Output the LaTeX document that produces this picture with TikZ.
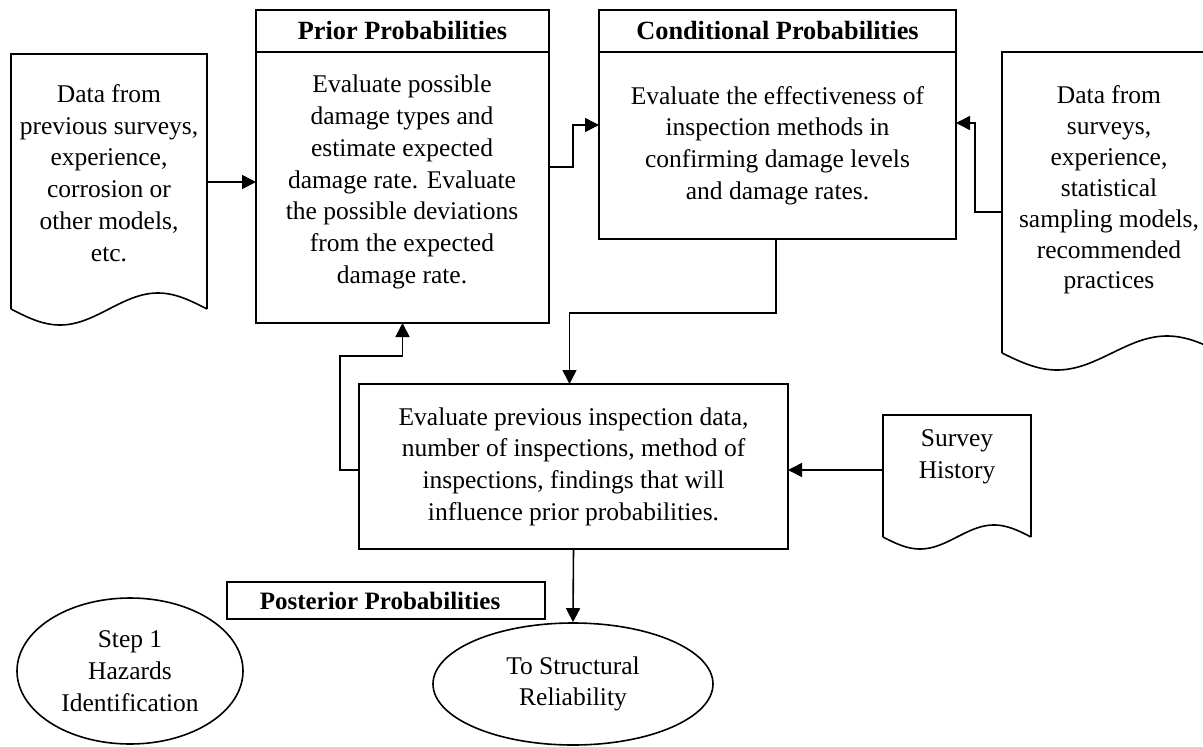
\documentclass[tikz,border=0pt]{standalone}
\usepackage{fontspec}
\setmainfont{Liberation Serif}
\usetikzlibrary{arrows.meta,shapes.geometric}
% document symbol: left/top/right edges, mean height of the wavy bottom, wave amplitude
\newcommand\docoutline[5]{%
  \draw (#1,#4) -- (#1,#2) -- (#3,#2) -- (#3,#4);
  \draw plot[domain=0:1,samples=90,smooth] ({#1+(#3-#1)*\x},{#4+#5*sin(360*\x)});
}
\begin{document}
\begin{tikzpicture}[x=1pt,y=-1pt,line width=1.6pt,
  txt/.style={align=center,font=\fontsize{25.5}{31.7}\selectfont,inner sep=0pt},
  box/.style={draw,txt,anchor=north west,outer sep=0pt},
  head/.style={box,font=\fontsize{26.3}{31.7}\selectfont\bfseries},
  area/.style={inner sep=0pt,outer sep=0pt,anchor=north west},
  oval/.style={draw,ellipse,txt},
  arr/.style={-{Triangle[length=14pt,width=14pt]}}]
\useasboundingbox (0,0) rectangle (1203,747);

% data sources drawn as document symbols
\docoutline{11}{54}{207}{309}{16}
\node[area,minimum width=196pt,minimum height=255pt] (ldoc) at (11,54) {};
\node[txt] (ldoctext) at (109,173) {Data from\\previous surveys,\\experience,\\corrosion or\\other models,\\etc.};

\docoutline{1002}{52}{1222}{353}{17}
\node[area,minimum width=220pt,minimum height=301pt] (rdoc) at (1002,52) {};
\node[txt,font=\fontsize{25.5}{30.9}\selectfont] (rdoctext) at (1109,190) {Data from\\surveys,\\experience,\\statistical\\sampling models,\\recommended\\practices};

\docoutline{883}{415}{1031}{537}{12}
\node[area,minimum width=148pt,minimum height=122pt] (hist) at (883,415) {};
\node[txt] (histtext) at (957,457) {Survey\\History};

% prior probabilities
\node[head,minimum width=293pt,minimum height=42pt] (priorhead) at (256,10) {Prior Probabilities};
\node[box,minimum width=293pt,minimum height=271pt] (prior) at (256,52) {};
\node[txt] (priortext) at (402,182)
  {Evaluate possible\\damage types and\\estimate expected\\damage rate. Evaluate\\the possible deviations\\from the expected\\damage rate.};

% conditional probabilities
\node[head,minimum width=357pt,minimum height=42pt] (condhead) at (599,10) {Conditional Probabilities};
\node[box,minimum width=357pt,minimum height=187pt] (cond) at (599,52)
  {Evaluate the effectiveness of\\inspection methods in\\confirming damage levels\\and damage rates.};

% inspection data
\node[box,minimum width=429pt,minimum height=165pt] (insp) at (359,384)
  {Evaluate previous inspection data,\\number of inspections, method of\\inspections, findings that will\\influence prior probabilities.};

% posterior probabilities
\node[head,font=\fontsize{25}{30}\selectfont\bfseries,minimum width=318pt,minimum height=37pt] (post) at (227,582) {Posterior Probabilities\hspace*{12pt}};

% terminals
\node[oval,minimum width=226pt,minimum height=146pt] (step) at (130,671) {Step 1\\Hazards\\Identification};
\node[oval,minimum width=280pt,minimum height=122pt] (rel) at (573,684) {To Structural\\Reliability};

% connectors
\draw[arr] (ldoc.east |- 0,182) -- (prior.west |- 0,182);
\draw[arr] (prior.east |- 0,167) -- ++(24,0) |- (cond.west |- 0,125);
\draw[arr] (rdoc.west |- 0,212) -- ++(-27,0) |- (cond.east |- 0,123);
\draw[arr] (cond.south -| 776,0) -- ++(0,74) -| ([xshift=-4pt]insp.north);
\draw[arr] (insp.west |- 0,470) -- ++(-19,0) |- (prior.south |- 0,356) -- (prior.south);
\draw[arr] (hist.west |- 0,470) -- (insp.east |- 0,470);
\draw[arr] (insp.south) -- (rel.north);
\end{tikzpicture}
\end{document}
